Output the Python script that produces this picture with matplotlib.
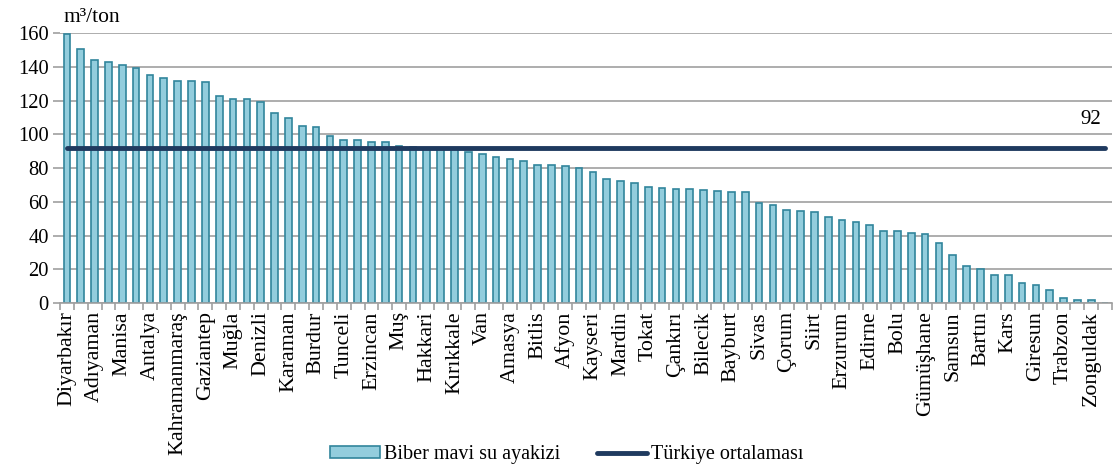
import numpy as np
import matplotlib
matplotlib.use('Agg')
from matplotlib import pyplot as plt
from matplotlib.patches import Patch
from matplotlib.lines import Line2D

plt.rcParams['font.family'] = ['Liberation Serif', 'DejaVu Serif']

# provinces, only every other one is labelled on the chart
labels = ['Diyarbakır', 'Adıyaman', 'Manisa', 'Antalya', 'Kahramanmaraş', 'Gaziantep',
          'Muğla', 'Denizli', 'Karaman', 'Burdur', 'Tunceli', 'Erzincan', 'Muş',
          'Hakkari', 'Kırıkkale', 'Van', 'Amasya', 'Bitlis', 'Afyon', 'Kayseri',
          'Mardin', 'Tokat', 'Çankırı', 'Bilecik', 'Bayburt', 'Sivas', 'Çorum',
          'Siirt', 'Erzurum', 'Edirne', 'Bolu', 'Gümüşhane', 'Samsun', 'Bartın',
          'Kars', 'Giresun', 'Trabzon', 'Zonguldak']

# blue water footprint of pepper (m3/ton), 76 provinces
values = [159.4, 150.7, 144.0, 142.6, 141.2, 139.5, 135.1, 133.1, 131.4, 131.4,
          130.8, 122.9, 121.1, 120.7, 119.3, 112.4, 109.4, 104.7, 104.3, 99.0,
          96.8, 96.6, 95.4, 95.2, 93.0, 92.5, 92.0, 91.5, 91.0, 89.5,
          88.1, 86.5, 85.5, 84.3, 82.0, 81.8, 81.4, 79.8, 77.8, 73.5,
          72.1, 71.3, 68.5, 68.3, 67.6, 67.6, 67.2, 66.4, 66.0, 65.8,
          59.1, 58.3, 55.3, 54.5, 53.9, 51.0, 49.4, 48.0, 46.4, 42.9,
          42.7, 41.5, 40.7, 35.4, 28.6, 21.9, 20.3, 16.8, 16.6, 12.0,
          10.7, 7.7, 2.8, 1.6, 1.6, 0.0]

turkey_avg = 92

x = np.arange(len(values))

fig = plt.figure(figsize=(11.13, 4.68), dpi=100)
ax = fig.add_axes([60 / 1113, 1 - 303 / 468, 1052 / 1113, 270 / 468])

ax.bar(x, values, width=0.48, color='#93CDDD', edgecolor='#31859C', linewidth=1.2, zorder=2)
ax.plot([x[0], x[-1]], [turkey_avg, turkey_avg], color='#1F3A5F', linewidth=3.5,
        solid_capstyle='round', zorder=3)
ax.text(x[-2], turkey_avg + 17, str(turkey_avg), ha='center', va='center', fontsize=15)

ax.set_xlim(-0.5, len(values) - 0.5)
ax.set_ylim(0, 160)
ax.set_yticks(range(0, 161, 20))
ax.yaxis.grid(True, color='#A0A0A0', linewidth=1.2, zorder=0)
ax.set_axisbelow(True)

ax.set_xticks(x[::2])
ax.set_xticklabels(labels, rotation=90)
ax.set_xticks(np.arange(-0.5, len(values)), minor=True)
ax.tick_params(axis='x', which='major', length=0, pad=6, labelsize=15.8)
ax.tick_params(axis='x', which='minor', length=5, color='#A0A0A0', width=1.2)
ax.tick_params(axis='y', length=5, color='#A0A0A0', width=1.2, labelsize=14.8, pad=3)

for side in ['left', 'right', 'top']:
    ax.spines[side].set_visible(False)
ax.spines['bottom'].set_color('#A0A0A0')
ax.spines['bottom'].set_linewidth(1.2)

fig.text(63 / 1113, 1 - 17 / 468, 'm³/ton', ha='left', va='center', fontsize=15.5)

handles = [Patch(facecolor='#93CDDD', edgecolor='#31859C', linewidth=1.2),
           Line2D([0], [0], color='#1F3A5F', linewidth=3.5, solid_capstyle='round')]
fig.legend(handles, ['Biber mavi su ayakizi', 'Türkiye ortalaması'], loc='center',
           bbox_to_anchor=(567 / 1113, 1 - 455 / 468), ncol=2, frameon=False,
           fontsize=14.5, handlelength=2.5, handleheight=0.55, handletextpad=0.2,
           columnspacing=1.8, borderpad=0)

fig.savefig('out.png', dpi=100)
